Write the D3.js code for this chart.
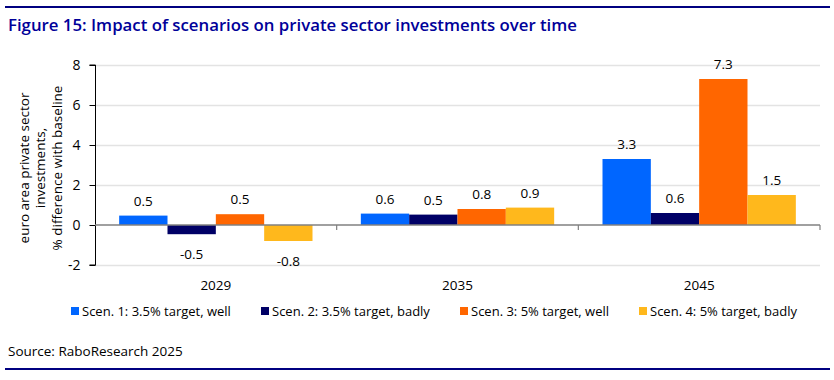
<!DOCTYPE html>
<html><head><meta charset="utf-8">
<script src="https://cdn.jsdelivr.net/npm/d3@7"></script>
<style>body{margin:0;background:#fff}svg{display:block}text{font-family:"Open Sans",sans-serif}</style>
</head><body>
<svg id="c" width="834" height="380"></svg>
<script>
const categories = ["2029","2035","2045"];
const seriesNames = ["Scen. 1: 3.5% target, well","Scen. 2: 3.5% target, badly","Scen. 3: 5% target, well","Scen. 4: 5% target, badly"];
const scen1 = [0.47, 0.57, 3.3];
const scen2 = [-0.46, 0.52, 0.6];
const scen3 = [0.54, 0.8, 7.3];
const scen4 = [-0.8, 0.87, 1.5];
const yTicks = [-2, 0, 2, 4, 6, 8];
const colors = ["#0066FF","#000066","#FF6600","#FFB81C"];

const series = [scen1, scen2, scen3, scen4];
const fmt = v => v.toFixed(1);
const svg = d3.select("#c");
const L = 95, R = 820, T = 65, B = 265;
const x = d3.scaleBand().domain(categories).range([L, R]).paddingInner(0).paddingOuter(0);
const xs = d3.scaleBand().domain(d3.range(4)).range([0, x.bandwidth()]).paddingInner(0).paddingOuter(0.5);
const y = d3.scaleLinear().domain([-2, 8]).range([B, T]);

svg.append("line").attr("x1",5).attr("x2",830).attr("y1",7).attr("y2",7).attr("stroke","#000080").attr("stroke-width",2);
svg.append("line").attr("x1",5).attr("x2",830).attr("y1",369).attr("y2",369).attr("stroke","#000080").attr("stroke-width",2);

svg.append("text").attr("x",8).attr("y",31).attr("fill","#000099").attr("font-size",16.8).attr("font-weight",600)
  .text("Figure 15: Impact of scenarios on private sector investments over time");

svg.append("g").selectAll("line").data(yTicks.filter(d=>d!==0)).join("line")
  .attr("x1",L).attr("x2",R).attr("y1",d=>y(d)+0.5).attr("y2",d=>y(d)+0.5)
  .attr("stroke","#e3e3e3").attr("stroke-width",1.5);

const yAxis = d3.axisLeft(y).tickValues(yTicks).tickSize(6).tickPadding(9).tickFormat(d => String(d));
const ga = svg.append("g").attr("transform",`translate(${L+0.5},0)`).call(yAxis);
ga.select(".domain").attr("stroke","#000").attr("d",`M-6,${y(8)}H0V${y(-2)}H-6`);
ga.selectAll(".tick line").attr("stroke","#000");
ga.selectAll(".tick text").attr("font-size",14).attr("fill","#000").attr("font-family","'Open Sans',sans-serif");

categories.forEach((c,i)=>{
  series.forEach((s,j)=>{
    const v = s[i];
    svg.append("rect").attr("x",x(c)+xs(j)).attr("width",xs.bandwidth())
      .attr("y",y(Math.max(0,v))).attr("height",Math.abs(y(v)-y(0))).attr("fill",colors[j]);
    svg.append("text").attr("x",x(c)+xs(j)+xs.bandwidth()/2)
      .attr("y", v>=0 ? y(v)-10 : y(v)+25).attr("text-anchor","middle").attr("font-size",13.5).attr("fill","#000")
      .text(fmt(v));
  });
});

const gx = svg.append("g").attr("transform",`translate(0,${y(0)})`);
gx.append("line").attr("x1",L).attr("x2",R).attr("y1",0).attr("y2",0).attr("stroke","#808080").attr("stroke-width",1.5);
gx.selectAll("line.t").data(categories).join("line").attr("class","t")
  .attr("x1",d=>x(d)+x.bandwidth()).attr("x2",d=>x(d)+x.bandwidth()).attr("y1",0).attr("y2",5).attr("stroke","#808080").attr("stroke-width",1.2);

svg.append("g").selectAll("text").data(categories).join("text")
  .attr("x",d=>x(d)+x.bandwidth()/2).attr("y",290).attr("text-anchor","middle").attr("font-size",13.5).text(d=>d);

const yl = svg.append("text").attr("transform","translate(40,168) rotate(-90)").attr("text-anchor","middle").attr("font-size",13.5);
["euro area private sector","investments,","% difference with baseline"].forEach((t,i)=>{
  yl.append("tspan").attr("x",0).attr("y",(i-1)*16.5+5).text(t);
});

const legX = [71, 261, 460, 639];
const lg = svg.append("g").selectAll("g").data(seriesNames).join("g").attr("transform",(d,i)=>`translate(${legX[i]},311)`);
lg.append("rect").attr("x",0).attr("y",-4).attr("width",8).attr("height",8).attr("fill",(d,i)=>colors[i]);
lg.append("text").attr("x",11).attr("y",5).attr("font-size",13).text(d=>d);

svg.append("text").attr("x",8).attr("y",356).attr("font-size",13.5).text("Source: RaboResearch 2025");
</script>
</body></html>
